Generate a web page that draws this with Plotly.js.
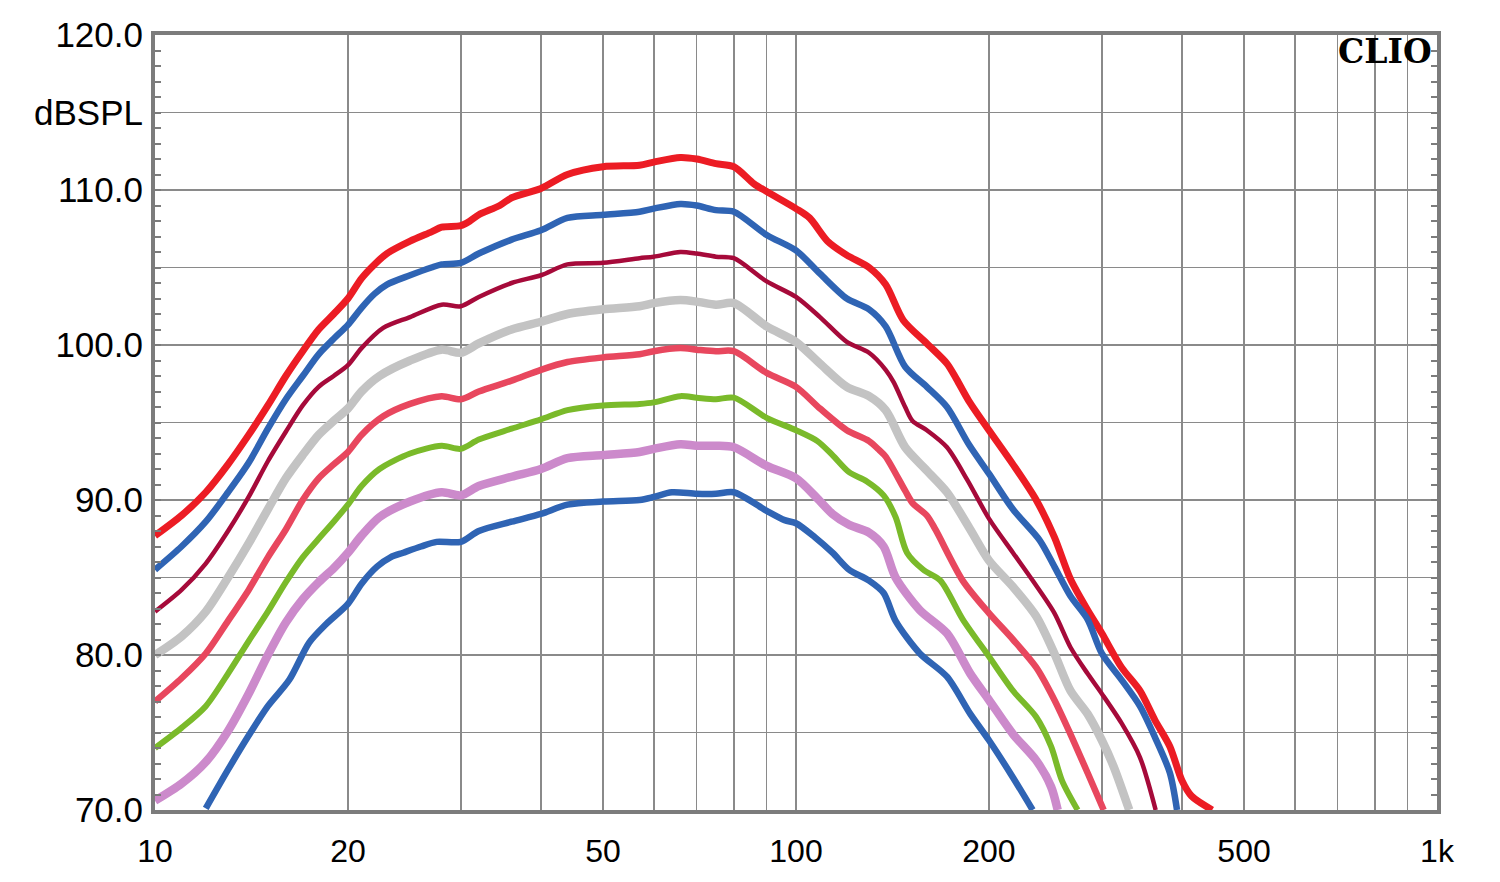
<!DOCTYPE html>
<html>
<head>
<meta charset="utf-8">
<script src="https://cdn.plot.ly/plotly-3.0.1.min.js"></script>
<style>
  html, body { margin: 0; padding: 0; background: #ffffff; }
  #chart { width: 1500px; height: 882px; }
</style>
</head>
<body>
<div id="chart"></div>
<script>
// ---- Data (frequency in Hz, level in dB SPL) ----
const f1 = [10, 11, 12, 13, 14, 15, 16, 17, 18, 19, 20, 21, 22, 23, 25, 27, 28, 30, 31, 32, 34.5, 36, 40, 44, 50, 57, 60, 66, 70, 75, 80, 86, 90, 100, 105, 112, 120, 130, 138, 147, 160, 172, 178, 186, 200, 218, 237, 253, 268, 285, 300, 322, 344, 363, 383, 400, 414, 446];
const v1 = [87.7, 89.0, 90.5, 92.3, 94.2, 96.1, 98.0, 99.6, 101.0, 102.0, 103.0, 104.3, 105.2, 105.9, 106.7, 107.3, 107.6, 107.7, 108.0, 108.4, 109.0, 109.5, 110.1, 111.0, 111.5, 111.6, 111.8, 112.1, 112.0, 111.7, 111.5, 110.4, 109.9, 108.8, 108.2, 106.7, 105.8, 105.0, 103.9, 101.6, 100.1, 98.8, 97.8, 96.4, 94.5, 92.3, 90.0, 87.6, 84.9, 82.9, 81.4, 79.2, 77.7, 75.8, 74.1, 71.9, 70.9, 70.0];

const f2 = [10, 11, 12, 13, 14, 15, 16, 17, 18, 19, 20, 21, 22, 23, 25, 27, 28, 30, 32, 36, 40, 44, 50, 57, 60, 66, 70, 75, 80, 90, 100, 109, 120, 130, 138, 148, 160, 172, 186, 200, 218, 240, 253, 268, 285, 300, 322, 344, 363, 383, 393];
const v2 = [85.5, 87.0, 88.6, 90.5, 92.4, 94.6, 96.5, 98.0, 99.4, 100.4, 101.3, 102.4, 103.3, 103.9, 104.5, 105.0, 105.2, 105.3, 105.9, 106.8, 107.4, 108.2, 108.4, 108.6, 108.8, 109.1, 109.0, 108.7, 108.6, 107.1, 106.1, 104.6, 103.0, 102.3, 101.2, 98.6, 97.3, 96.0, 93.6, 91.7, 89.4, 87.4, 85.7, 83.8, 82.3, 80.1, 78.4, 76.7, 74.7, 72.4, 70.0];

const f3 = [10, 11, 12, 13, 14, 15, 16, 17, 18, 19, 20, 21, 22.7, 25, 28, 30, 32, 36, 40, 44, 50, 57, 60, 66, 70, 75, 80, 90, 100, 109, 120, 130, 138, 142, 148, 152, 160, 172, 185, 200, 218, 234, 253, 268, 285, 300, 322, 344, 364];
const v3 = [82.8, 84.2, 85.9, 88.0, 90.2, 92.5, 94.4, 96.1, 97.3, 98.0, 98.7, 99.8, 101.1, 101.8, 102.6, 102.5, 103.1, 104.0, 104.5, 105.2, 105.3, 105.6, 105.7, 106.0, 105.9, 105.7, 105.6, 104.1, 103.1, 101.8, 100.2, 99.5, 98.4, 97.6, 96.0, 95.1, 94.5, 93.4, 91.3, 88.8, 86.6, 84.8, 82.7, 80.5, 78.8, 77.5, 75.6, 73.4, 70.0];

const f4 = [10, 11, 12, 13, 14, 15, 16, 17, 18, 19, 20, 21, 22.4, 25, 28, 30, 32, 36, 40, 44, 50, 57, 60, 66, 70, 75, 80, 90, 100, 109, 120, 130, 138, 148, 160, 172, 187, 200, 218, 237, 253, 268, 285, 300, 313, 331];
const v4 = [80.0, 81.2, 82.8, 85.0, 87.2, 89.4, 91.4, 92.9, 94.2, 95.1, 95.9, 97.0, 98.0, 99.0, 99.7, 99.5, 100.1, 101.0, 101.5, 102.0, 102.3, 102.5, 102.7, 102.9, 102.8, 102.6, 102.7, 101.2, 100.2, 98.8, 97.3, 96.7, 95.8, 93.4, 91.9, 90.5, 88.1, 86.1, 84.4, 82.5, 80.1, 77.7, 76.2, 74.5, 72.8, 70.0];

const f5 = [10, 11, 12, 13, 14, 15, 16, 17, 18, 19, 20, 21, 22.7, 25, 28, 30, 32, 36, 40, 44, 50, 57, 60, 66, 70, 75, 80, 90, 100, 109, 120, 130, 135, 138, 148, 152, 160, 165, 182, 200, 218, 237, 253, 268, 285, 302];
const v5 = [77.0, 78.5, 80.1, 82.2, 84.2, 86.3, 88.1, 90.0, 91.4, 92.3, 93.1, 94.2, 95.4, 96.2, 96.7, 96.5, 97.0, 97.7, 98.4, 98.9, 99.2, 99.4, 99.6, 99.8, 99.7, 99.6, 99.6, 98.2, 97.3, 95.9, 94.5, 93.8, 93.2, 92.8, 90.6, 89.8, 89.0, 88.1, 84.8, 82.7, 81.0, 79.2, 77.1, 74.9, 72.4, 70.0];

const f6 = [10, 11, 12, 13, 14, 15, 16, 17, 18, 19, 20, 21, 22.4, 25, 28, 30, 32, 36, 40, 44, 50, 57, 60, 66, 70, 75, 80, 90, 100, 108, 114, 121, 129, 137, 143, 149, 158, 168, 182, 200, 218, 237, 250, 260, 275];
const v6 = [74.0, 75.3, 76.7, 78.8, 80.9, 82.8, 84.7, 86.3, 87.5, 88.6, 89.7, 90.9, 92.0, 93.0, 93.5, 93.3, 93.9, 94.6, 95.2, 95.8, 96.1, 96.2, 96.3, 96.7, 96.6, 96.5, 96.6, 95.3, 94.5, 93.8, 92.9, 91.8, 91.2, 90.3, 88.9, 86.6, 85.5, 84.8, 82.3, 79.9, 77.7, 76.0, 74.1, 71.9, 70.0];

const f7 = [10, 11, 12, 13, 14, 15, 16, 17, 18, 19, 20, 21, 22.4, 25, 28, 30, 32, 36, 40, 44, 50, 57, 60, 66, 70, 75, 80, 90, 100, 108, 114, 121, 130, 137, 143, 156, 172, 187, 200, 218, 237, 250, 256];
const v7 = [70.6, 71.7, 73.1, 75.1, 77.5, 80.0, 82.1, 83.6, 84.7, 85.6, 86.6, 87.7, 88.9, 89.9, 90.5, 90.3, 90.9, 91.5, 92.0, 92.7, 92.9, 93.1, 93.3, 93.6, 93.5, 93.5, 93.4, 92.2, 91.4, 90.1, 89.1, 88.4, 87.9, 87.0, 85.0, 82.9, 81.4, 78.8, 77.1, 74.9, 73.2, 71.5, 70.0];

const f8 = [12, 13, 14, 15, 16.2, 17.4, 18.5, 20, 21, 22.2, 23.3, 24.4, 26, 27.5, 30, 32, 36, 40, 44, 50, 57, 60, 64, 70, 75, 80, 90, 96, 100, 107, 114, 121, 130, 137, 143, 156, 172, 187, 200, 218, 234];
const v8 = [70.1, 72.6, 74.8, 76.7, 78.4, 80.8, 82.0, 83.3, 84.6, 85.7, 86.3, 86.6, 87.0, 87.3, 87.3, 88.0, 88.6, 89.1, 89.7, 89.9, 90.0, 90.2, 90.5, 90.4, 90.4, 90.5, 89.3, 88.7, 88.5, 87.6, 86.6, 85.5, 84.8, 84.0, 82.2, 80.1, 78.6, 76.2, 74.5, 72.1, 70.0];

const xTickVals = [10, 20, 30, 40, 50, 60, 70, 80, 90, 100, 200, 300, 400, 500, 600, 700, 800, 900, 1000];
const xTickText = ['10', '20', '', '', '50', '', '', '', '', '100', '200', '', '', '500', '', '', '', '', '1k'];
const yTickVals = [70, 75, 80, 85, 90, 95, 100, 105, 110, 115, 120];
const yTickText = ['70.0', '', '80.0', '', '90.0', '', '100.0', '', '110.0', 'dBSPL', '120.0'];

// ---- Styles ----
const series = [
  {x: f1, y: v1, color: '#ec1c24', width: 7},
  {x: f2, y: v2, color: '#2f64b4', width: 6.5},
  {x: f3, y: v3, color: '#a60a3a', width: 4.5},
  {x: f4, y: v4, color: '#c3c3c3', width: 8.5},
  {x: f5, y: v5, color: '#e8475e', width: 6.5},
  {x: f6, y: v6, color: '#7aba2a', width: 6},
  {x: f7, y: v7, color: '#cc8acb', width: 8.5},
  {x: f8, y: v8, color: '#2f64b4', width: 6.5}
];

const traces = series.map(s => ({
  type: 'scatter',
  mode: 'lines',
  x: s.x,
  y: s.y,
  line: {color: s.color, width: s.width, shape: 'spline', smoothing: 0.8},
  hoverinfo: 'x+y',
  showlegend: false
}));

const gridColor = '#8a8a8a';
const frameColor = '#7c7c7c';
const xTickFont = {family: 'Liberation Sans, Arial, sans-serif', size: 32, color: '#000000'};
const yTickFont = {family: 'Liberation Sans, Arial, sans-serif', size: 35, color: '#000000'};

const layout = {
  width: 1500,
  height: 882,
  margin: {l: 155, r: 63, t: 35, b: 72},
  paper_bgcolor: '#ffffff',
  plot_bgcolor: '#ffffff',
  showlegend: false,
  xaxis: {
    type: 'log',
    range: [1, 3],
    tickmode: 'array',
    tickvals: xTickVals,
    ticktext: xTickText,
    showgrid: true,
    gridcolor: gridColor,
    gridwidth: 1.5,
    zeroline: false,
    showline: true,
    linecolor: frameColor,
    linewidth: 4,
    mirror: true,
    ticks: '',
    tickfont: xTickFont,
    ticklabelstandoff: 10
  },
  yaxis: {
    range: [70, 120],
    tickmode: 'array',
    tickvals: yTickVals,
    ticktext: yTickText,
    showgrid: true,
    gridcolor: gridColor,
    gridwidth: 1.5,
    zeroline: false,
    showline: true,
    linecolor: frameColor,
    linewidth: 4,
    mirror: 'allticks',
    ticks: 'inside',
    ticklen: 6,
    tickwidth: 2,
    tickcolor: frameColor,
    minor: {tickmode: 'linear', tick0: 70, dtick: 1, ticks: 'inside', ticklen: 6, tickwidth: 2, tickcolor: frameColor, showgrid: false},
    tickfont: yTickFont,
    ticklabelstandoff: 1
  },
  annotations: [{
    text: '<b>CLIO</b>',
    xref: 'paper', yref: 'paper',
    x: 1, y: 0.979,
    xanchor: 'right', yanchor: 'middle',
    xshift: -3,
    showarrow: false,
    font: {family: 'DejaVu Serif, serif', size: 33, color: '#000000'}
  }]
};

Plotly.newPlot('chart', traces, layout, {displayModeBar: false, staticPlot: true});
</script>
</body>
</html>
